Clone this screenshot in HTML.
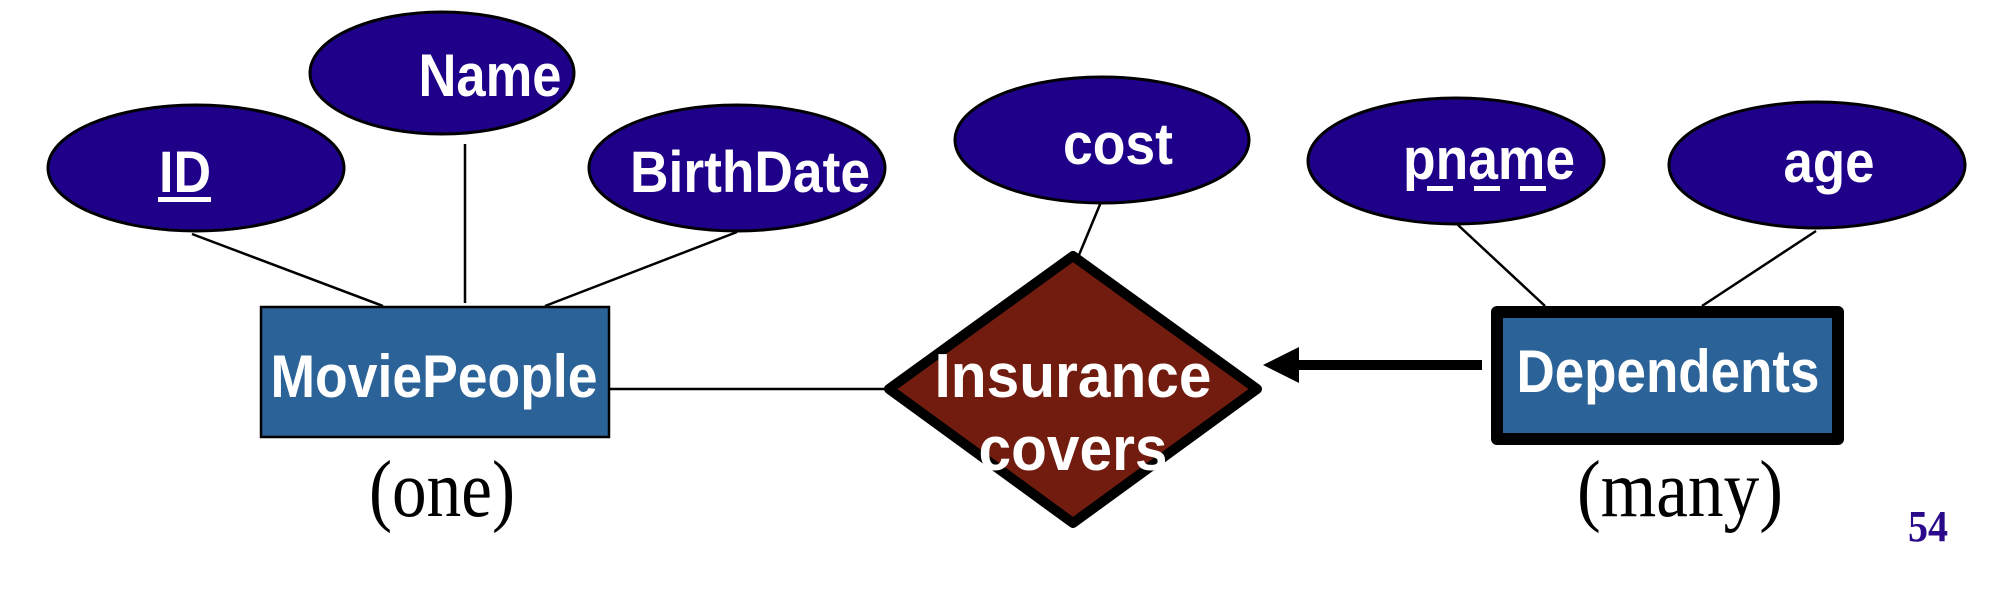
<!DOCTYPE html>
<html><head><meta charset="utf-8"><style>
html,body{margin:0;padding:0;background:#fff;}
svg{display:block;}
.a{font-family:"Liberation Sans",Arial,sans-serif;font-weight:bold;fill:#fff;}
.s{font-family:"Liberation Serif","Times New Roman",serif;fill:#000;}
</style></head><body>
<svg width="2002" height="598" viewBox="0 0 2002 598" xmlns="http://www.w3.org/2000/svg">
<g stroke="#000" stroke-width="2.5">
<line x1="192" y1="234" x2="383" y2="306"/>
<line x1="465" y1="144" x2="465" y2="303"/>
<line x1="737" y1="232" x2="545" y2="306"/>
<line x1="609" y1="389" x2="888" y2="389"/>
<line x1="1101" y1="202" x2="1079" y2="255"/>
<line x1="1458" y1="225" x2="1545" y2="306"/>
<line x1="1816" y1="231" x2="1702" y2="306"/>
</g>
<g fill="#1f0088" stroke="#000" stroke-width="3">
<ellipse cx="196" cy="168" rx="148" ry="63"/>
<ellipse cx="442" cy="73" rx="132" ry="61"/>
<ellipse cx="737" cy="168" rx="148" ry="63"/>
<ellipse cx="1102" cy="140" rx="147" ry="63"/>
<ellipse cx="1456" cy="161" rx="148" ry="63"/>
<ellipse cx="1817" cy="165" rx="148" ry="63"/>
</g>
<text class="a" x="185" y="192" font-size="58" text-anchor="middle" textLength="52" lengthAdjust="spacingAndGlyphs">ID</text>
<rect x="158" y="197" width="53" height="5" fill="#fff"/>
<text class="a" x="490" y="96" font-size="60" text-anchor="middle" textLength="143" lengthAdjust="spacingAndGlyphs">Name</text>
<text class="a" x="750" y="192" font-size="58" text-anchor="middle" textLength="240" lengthAdjust="spacingAndGlyphs">BirthDate</text>
<text class="a" x="1118" y="164" font-size="58" text-anchor="middle" textLength="110" lengthAdjust="spacingAndGlyphs">cost</text>
<text class="a" x="1489" y="179" font-size="58" text-anchor="middle" textLength="172" lengthAdjust="spacingAndGlyphs">pname</text>
<g fill="#fff"><rect x="1427" y="186" width="26" height="5"/><rect x="1474" y="186" width="26" height="5"/><rect x="1520" y="186" width="26" height="5"/></g>
<text class="a" x="1829" y="182" font-size="58" text-anchor="middle" textLength="91" lengthAdjust="spacingAndGlyphs">age</text>
<rect x="261" y="307" width="348" height="130" fill="#2b6399" stroke="#000" stroke-width="2.5"/>
<text class="a" x="434" y="397" font-size="60" text-anchor="middle" textLength="327" lengthAdjust="spacingAndGlyphs">MoviePeople</text>
<polygon points="889,389 1073,256 1257,389 1073,523" fill="#721c10" stroke="#000" stroke-width="10" stroke-linejoin="round"/>
<text class="a" x="1073" y="397" font-size="62" text-anchor="middle" textLength="277" lengthAdjust="spacingAndGlyphs">Insurance</text>
<text class="a" x="1073" y="470" font-size="62" text-anchor="middle" textLength="189" lengthAdjust="spacingAndGlyphs">covers</text>
<line x1="1295" y1="365" x2="1482" y2="365" stroke="#000" stroke-width="10"/>
<polygon points="1263,365 1299,347 1299,383" fill="#000"/>
<rect x="1497" y="312" width="341" height="127" fill="#2b6399" stroke="#000" stroke-width="12" stroke-linejoin="round"/>
<text class="a" x="1668" y="392" font-size="60" text-anchor="middle" textLength="303" lengthAdjust="spacingAndGlyphs">Dependents</text>
<text class="s" x="442" y="516" font-size="80" text-anchor="middle" textLength="146" lengthAdjust="spacingAndGlyphs">(one)</text>
<text class="s" x="1680" y="516" font-size="80" text-anchor="middle" textLength="206" lengthAdjust="spacingAndGlyphs">(many)</text>
<text x="1928" y="541" font-family="Liberation Serif,serif" font-weight="bold" font-size="44" fill="#2a0a8a" text-anchor="middle" textLength="40" lengthAdjust="spacingAndGlyphs">54</text>
</svg>
</body></html>
